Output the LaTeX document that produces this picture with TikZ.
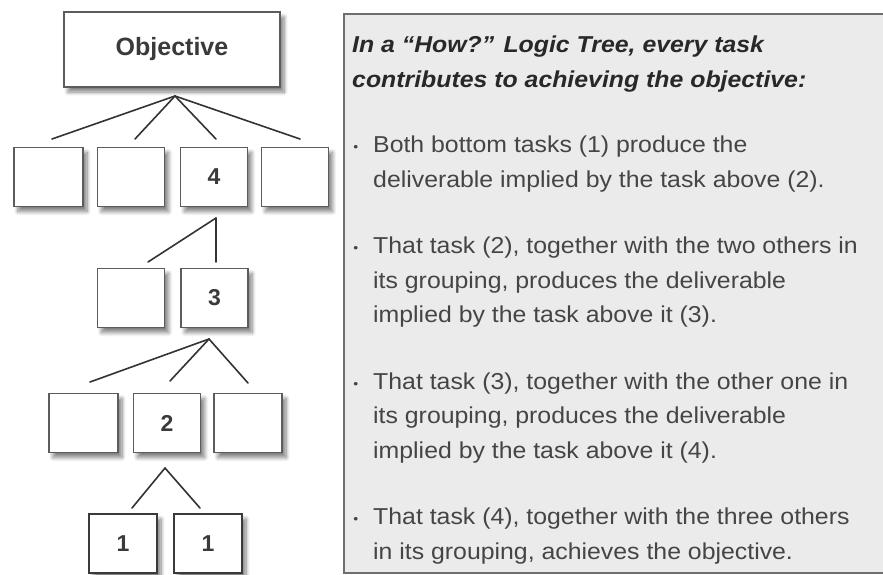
\documentclass[tikz,border=0pt]{standalone}
\usepackage{fontspec}
\setmainfont{Liberation Sans}
\newfontfamily\notefont[FakeStretch=1.08]{Liberation Sans}
\usetikzlibrary{shadows.blur}

\definecolor{boxgray}{HTML}{5C5C5C}
\definecolor{leafgray}{HTML}{3A3A3A}
\definecolor{linegray}{HTML}{333333}
\definecolor{numgray}{HTML}{3A3A3A}
\definecolor{panelfill}{HTML}{EBEBEB}
\definecolor{panelline}{HTML}{6E6E6E}
\definecolor{headgray}{HTML}{282828}
\definecolor{notegray}{HTML}{454545}

\tikzset{
  task/.style={draw=boxgray, line width=1.2pt, fill=white, inner sep=0pt,
    minimum width=67pt, minimum height=59pt, text=numgray,
    font=\bfseries\fontsize{23}{23}\selectfont,
    blur shadow={shadow xshift=4pt, shadow yshift=-5pt, shadow blur radius=4pt,
      shadow blur steps=8, shadow opacity=50}},
  leaf/.style={task, draw=leafgray, line width=1.8pt},
  branch/.style={draw=linegray, line width=1.6pt, line cap=round},
  note/.style={anchor=base west, align=left, inner sep=0pt, text=notegray,
    font=\notefont\fontsize{23}{34.5}\selectfont},
}
\newcommand{\notebullet}{\llap{{\fontsize{13}{13}\selectfont\raisebox{1pt}{•}}\hspace{15pt}}}

\begin{document}
\begin{tikzpicture}[x=1pt,y=-1pt]
  \useasboundingbox (0,0) rectangle (883,574);

  % objective and the tasks below it
  \node[task, minimum width=216pt, minimum height=75pt,
        font=\bfseries\fontsize{25}{25}\selectfont] (obj) at (172,49.5) {Objective};

  \node[task, minimum width=69pt] (r1a) at (48.5,177) {};
  \node[task] (r1b) at (131,177) {};
  \node[task] (r1c) at (214,177) {4};
  \node[task] (r1d) at (295,177) {};

  \node[task] (r2a) at (131,298) {};
  \node[task] (r2b) at (214.5,298) {3};

  \node[task, minimum width=69pt] (r3a) at (83.5,423) {};
  \node[task] (r3b) at (167,423) {2};
  \node[task, minimum width=68pt] (r3c) at (248,423) {};

  \node[leaf, minimum width=68pt] (r4a) at (123,543.5) {1};
  \node[leaf, minimum width=68pt] (r4b) at (208,543.5) {1};

  % forks and branch ends
  \coordinate (objfork) at (175,96);
  \coordinate (r1a-top) at (52,139);
  \coordinate (r1b-top) at (135,139);
  \coordinate (r1c-top) at (216,139);
  \coordinate (r1d-top) at (300,139);

  \coordinate (r1cfork) at (216,218);
  \coordinate (r2a-top) at (148,262);
  \coordinate (r2b-top) at (216,262);

  \coordinate (r2bfork) at (209,339);
  \coordinate (r3a-top) at (90,382);
  \coordinate (r3b-top) at (170,381);
  \coordinate (r3c-top) at (248,383);

  \coordinate (r3bfork) at (165,468);
  \coordinate (r4a-top) at (132,508);
  \coordinate (r4b-top) at (200,508);

  \foreach \c in {r1a,r1b,r1c,r1d}
    \draw[branch] (objfork) -- (\c-top);
  \foreach \c in {r2a,r2b}
    \draw[branch] (r1cfork) -- (\c-top);
  \foreach \c in {r3a,r3b,r3c}
    \draw[branch] (r2bfork) -- (\c-top);
  \foreach \c in {r4a,r4b}
    \draw[branch] (r3bfork) -- (\c-top);

  % explanation panel
  \node[draw=panelline, line width=1.5pt, fill=panelfill, anchor=north west,
        minimum width=560pt, minimum height=559pt, inner sep=0pt] (panel) at (343,13) {};

  % base of a multi-line note is its last baseline
  \node[note, text=headgray, font=\notefont\bfseries\itshape\fontsize{23}{35}\selectfont] (head) at (352,87.5)
    {In a “How?” Logic Tree, every task\\contributes to achieving the objective:};

  \node[note] (item1) at (373,187)
    {\notebullet Both bottom tasks (1) produce the\\deliverable implied by the task above (2).};
  \node[note] (item2) at (373,322.5)
    {\notebullet That task (2), together with the two others in\\its grouping, produces the deliverable\\implied by the task above it (3).};
  \node[note] (item3) at (373,458)
    {\notebullet That task (3), together with the other one in\\its grouping, produces the deliverable\\implied by the task above it (4).};
  \node[note] (item4) at (373,559)
    {\notebullet That task (4), together with the three others\\in its grouping, achieves the objective.};
\end{tikzpicture}
\end{document}
